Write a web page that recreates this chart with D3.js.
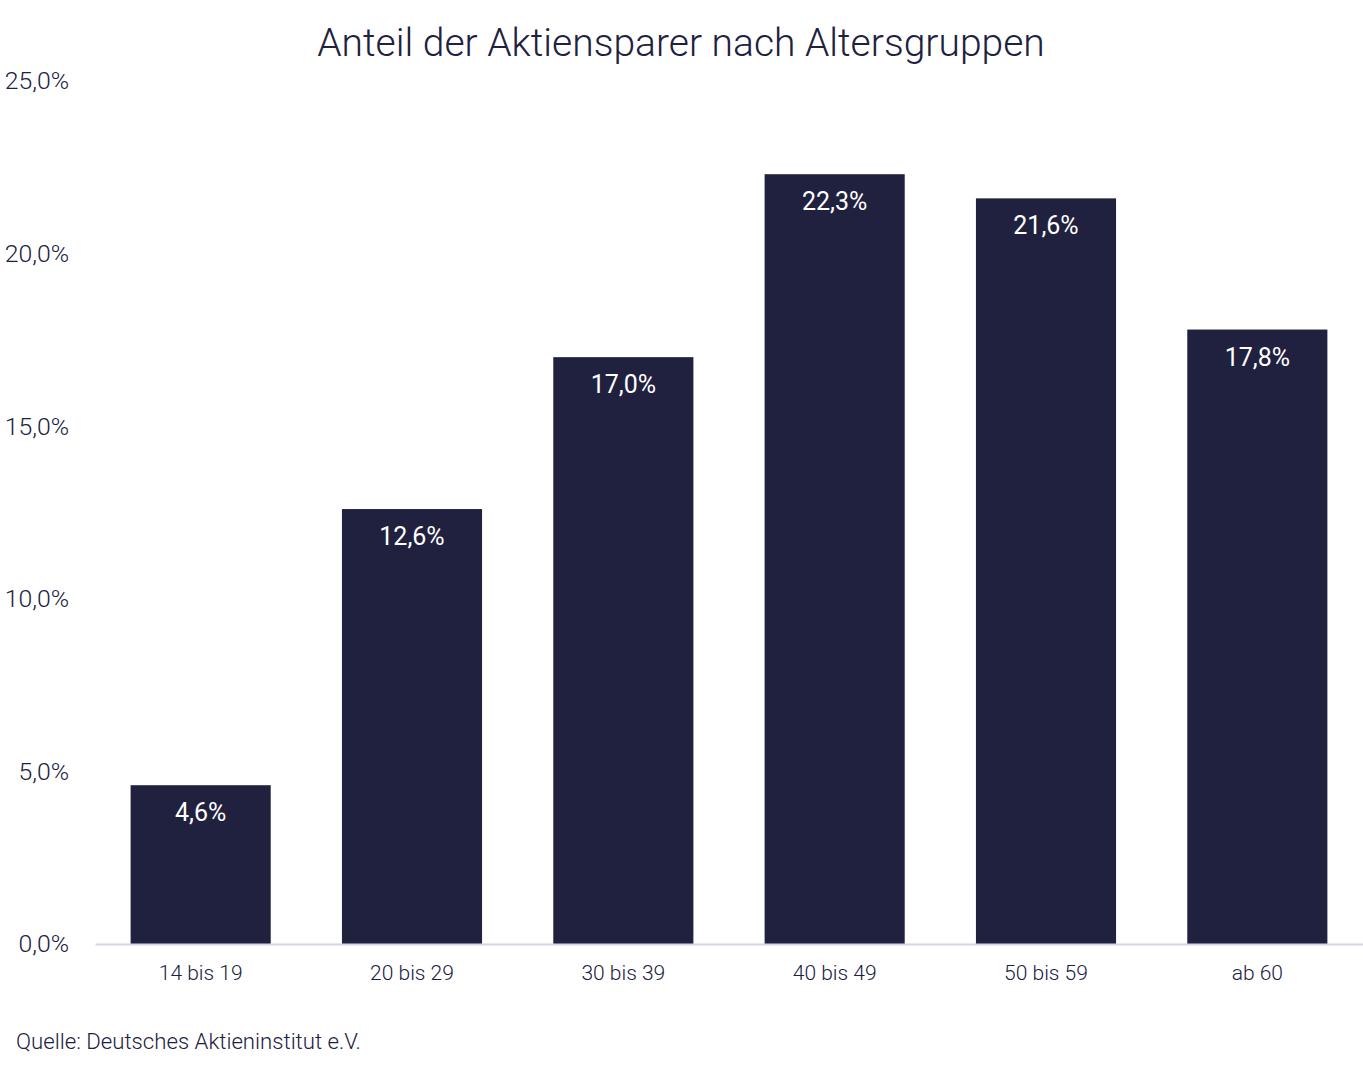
<!DOCTYPE html>
<html><head><meta charset="utf-8">
<script src="https://cdn.jsdelivr.net/npm/d3@7"></script>
<style>body{margin:0;background:#fff;}svg{display:block;font-family:Roboto,sans-serif;}</style>
</head><body>
<svg id="c" width="1363" height="1068"></svg>
<script>
const categories = ["14 bis 19","20 bis 29","30 bis 39","40 bis 49","50 bis 59","ab 60"];
const values = [4.6,12.6,17.0,22.3,21.6,17.8];
const yTicks = [0,5,10,15,20,25];
const title = "Anteil der Aktiensparer nach Altersgruppen";
const source = "Quelle: Deutsches Aktieninstitut e.V.";

(function(){
const svg = d3.select("#c");
const mLeft = 95, mRight = 1363, mTop = 81, mBottom = 944;
const fmt = v => v.toFixed(1).replace(".", ",") + "%";
const x = d3.scaleBand().domain(categories).range([mLeft, mRight]).paddingInner(0.337).paddingOuter(0.1685);
const y = d3.scaleLinear().domain([0,25]).range([mBottom, mTop]);
const dark = "#20213f";

svg.append("text").attr("x",681).attr("y",56).attr("text-anchor","middle")
  .attr("font-size",39).attr("font-weight",300).attr("fill",dark).text(title);

const ya = svg.append("g").attr("transform",`translate(${mLeft},0)`)
  .call(d3.axisLeft(y).tickValues(yTicks).tickFormat(fmt).tickSize(0).tickPadding(26));
ya.select(".domain").remove();
ya.selectAll("text").attr("font-size",24.8).attr("font-weight",300).attr("fill",dark).attr("font-family","Roboto");

svg.selectAll("rect.bar").data(values).join("rect").attr("class","bar")
  .attr("x",(d,i)=>x(categories[i])).attr("width",x.bandwidth())
  .attr("y",d=>y(d)).attr("height",d=>y(0)-y(d)).attr("fill",dark);

svg.selectAll("text.lbl").data(values).join("text").attr("class","lbl")
  .attr("x",(d,i)=>x(categories[i])+x.bandwidth()/2).attr("y",d=>y(d)+36)
  .attr("text-anchor","middle").attr("font-size",25).attr("fill","#ffffff").text(fmt);

const xa = svg.append("g").attr("transform",`translate(0,${mBottom})`)
  .call(d3.axisBottom(x).tickSize(0).tickPadding(21));
xa.select(".domain").attr("stroke","#d4d4ea").attr("stroke-width",2);
xa.selectAll("text").attr("font-size",21).attr("font-weight",300).attr("fill",dark).attr("font-family","Roboto");

svg.append("text").attr("x",16).attr("y",1049).attr("font-size",22.2).attr("font-weight",300)
  .attr("fill",dark).text(source);
})();
</script>
</body></html>
